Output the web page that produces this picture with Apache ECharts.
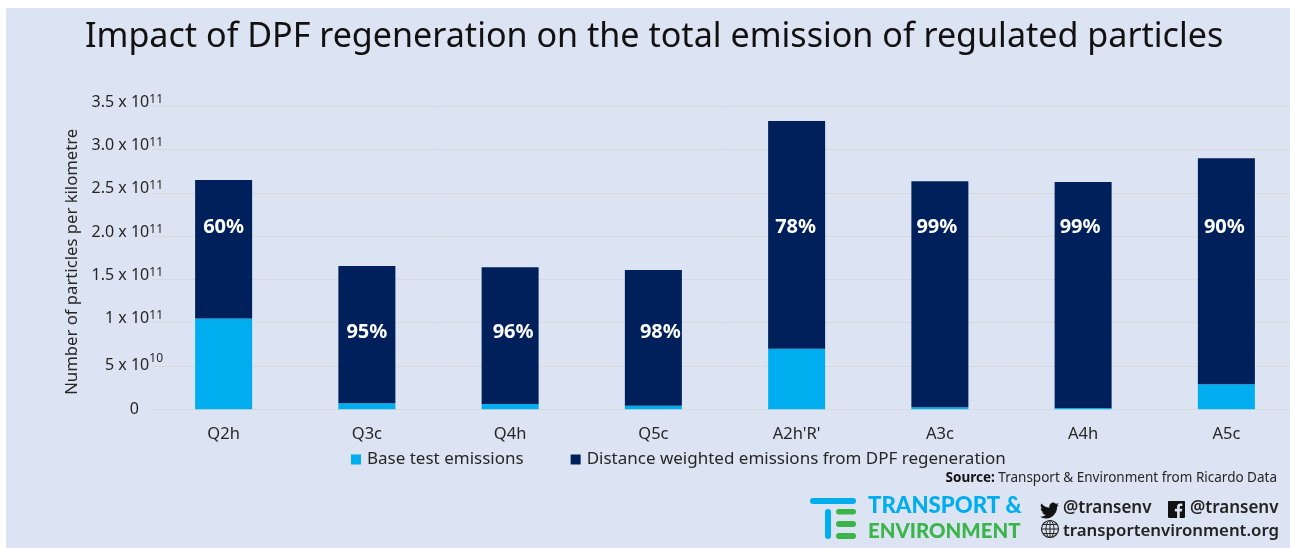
<!DOCTYPE html>
<html>
<head>
<meta charset="utf-8">
<style>html,body{margin:0;padding:0;background:#fff}#c{width:1290px;height:548px}</style>
<script src="https://cdn.jsdelivr.net/npm/echarts@6/dist/echarts.min.js"></script>
</head>
<body>
<div id="c"></div>
<script>
const titleText = 'Impact of DPF regeneration on the total emission of regulated particles';
const categories = ['Q2h', 'Q3c', 'Q4h', 'Q5c', "A2h'R'", 'A3c', 'A4h', 'A5c'];
const baseEmissions = [1.05e11, 0.07e11, 0.06e11, 0.04e11, 0.70e11, 0.025e11, 0.015e11, 0.29e11];
const regenEmissions = [1.60e11, 1.585e11, 1.58e11, 1.57e11, 2.63e11, 2.61e11, 2.61e11, 2.61e11];
const shareLabels = ['60%', '95%', '96%', '98%', '78%', '99%', '99%', '90%'];
const shareLabelHeights = [2.105e11, 0.895e11, 0.895e11, 0.895e11, 2.105e11, 2.105e11, 2.105e11, 2.105e11];
const shareLabelShift = [0, 0, 3, 7, -1, -3, -3, -2];
const tickText = ['0', '5 x 10', '1 x 10', '1.5 x 10', '2.0 x 10', '2.5 x 10', '3.0 x 10', '3.5 x 10'];
const tickExponent = ['', '10', '11', '11', '11', '11', '11', '11'];
const seriesNames = ['Base test emissions', 'Distance weighted emissions from DPF regeneration'];
const FONT = '"Noto Sans", sans-serif';
const INK = '#262626', BLUE = '#00AEEF', NAVY = '#00205B', GREEN = '#39B54A';
const twitterPath = 'M23.953 4.57a10 10 0 0 1-2.825.775 4.958 4.958 0 0 0 2.163-2.723c-.951.555-2.005.959-3.127 1.184a4.92 4.92 0 0 0-8.384 4.482C7.69 8.095 4.067 6.13 1.64 3.162a4.822 4.822 0 0 0-.666 2.475c0 1.71.87 3.213 2.188 4.096a4.904 4.904 0 0 1-2.228-.616v.06a4.923 4.923 0 0 0 3.946 4.827 4.996 4.996 0 0 1-2.212.085 4.936 4.936 0 0 0 4.604 3.417 9.867 9.867 0 0 1-6.102 2.105c-.39 0-.779-.023-1.17-.067a13.995 13.995 0 0 0 7.557 2.209c9.053 0 13.998-7.496 13.998-13.985 0-.21 0-.42-.015-.63A9.935 9.935 0 0 0 24 4.59z';
const facebookPath = 'M22.675 0H1.325C.593 0 0 .593 0 1.325v21.351C0 23.407.593 24 1.325 24H12.82v-9.294H9.692v-3.622h3.128V8.413c0-3.1 1.893-4.788 4.659-4.788 1.325 0 2.463.099 2.795.143v3.24l-1.918.001c-1.504 0-1.795.715-1.795 1.763v2.313h3.587l-.467 3.622h-3.12V24h6.116c.73 0 1.323-.593 1.323-1.325V1.325C24 .593 23.407 0 22.675 0z';

echarts.graphic.registerShape('twitterIcon', echarts.graphic.extendPath(twitterPath, {}));
echarts.graphic.registerShape('facebookIcon', echarts.graphic.extendPath(facebookPath, {}));

const bar = (x, y, w, h, fill) => ({ type: 'rect', shape: { x, y, width: w, height: h, r: Math.min(w, h) / 2 }, style: { fill }, silent: true });
const txt = (x, y, text, size, fill, weight, extra) => ({
  type: 'text', silent: true,
  style: Object.assign({ x, y, text, fill, fontFamily: FONT, fontSize: size, fontWeight: weight || 'normal', verticalAlign: 'middle', align: 'left' }, extra || {})
});
const gline = (x1, y1, x2, y2) => ({ type: 'line', shape: { x1, y1, x2, y2 }, style: { stroke: '#222', lineWidth: 1 }, silent: true });

const chart = echarts.init(document.getElementById('c'), null, { renderer: 'canvas' });
chart.setOption({
  animation: false,
  backgroundColor: '#ffffff',
  textStyle: { fontFamily: FONT },
  title: {
    text: titleText, left: 85, top: 20, padding: 0,
    textStyle: { fontFamily: FONT, fontSize: 34.1, fontWeight: 'normal', color: '#111' }
  },
  grid: { left: 152, top: 106.3, width: 1146, height: 303, outerBoundsMode: 'none' },
  legend: {
    data: seriesNames, left: 351, top: 451, padding: 0, itemWidth: 10, itemHeight: 10, itemGap: 47,
    icon: 'rect', textStyle: { fontFamily: FONT, fontSize: 17, color: INK, padding: [0, 0, 0, 1] }
  },
  xAxis: {
    type: 'category', data: categories,
    axisLine: { lineStyle: { color: '#D9D9D9', width: 1 } }, axisTick: { show: false },
    axisLabel: { color: INK, fontSize: 16.5, margin: 16, fontFamily: FONT, interval: 0 }
  },
  yAxis: {
    type: 'value', min: 0, max: 3.5e11, interval: 0.5e11,
    name: 'Number of particles per kilometre', nameLocation: 'middle', nameGap: 71, nameRotate: 90,
    nameTextStyle: { fontSize: 16.7, color: INK, fontFamily: FONT, padding: [0, 8, 0, 0] },
    splitLine: { lineStyle: { color: '#D9D9D9', width: 1 } }, axisLine: { show: false }, axisTick: { show: false },
    axisLabel: {
      margin: -11, align: 'right', interval: 0,
      formatter: (v) => {
        const i = Math.round(v / 0.5e11);
        if (i === 0) return '{z|' + tickText[0] + '}';
        const nudge = i === 1 ? 'l' : 'b';
        return '{' + nudge + '|' + tickText[i] + '}{s|' + tickExponent[i] + '}';
      },
      rich: {
        z: { fontSize: 16, color: INK, fontFamily: FONT, padding: [0, 24, 0, 0] },
        l: { fontSize: 16, color: INK, fontFamily: FONT, padding: [0, 0, 2, 0] },
        b: { fontSize: 16, color: INK, fontFamily: FONT, padding: [0, 0, 8, 0] },
        s: { fontSize: 12, color: INK, fontFamily: FONT, padding: [0, 0, 14, 0] }
      }
    }
  },
  series: [
    { name: seriesNames[0], type: 'bar', stack: 'total', barWidth: 57, data: baseEmissions, itemStyle: { color: BLUE } },
    { name: seriesNames[1], type: 'bar', stack: 'total', barWidth: 57, data: regenEmissions, itemStyle: { color: NAVY } },
    {
      name: 'share', type: 'scatter', symbolSize: 1, silent: true, itemStyle: { color: 'transparent', opacity: 1 },
      data: shareLabelHeights.map((h, i) => ({
        value: [i, h],
        label: { show: true, position: 'inside', formatter: shareLabels[i], offset: [shareLabelShift[i], 0],
          color: '#ffffff', fontSize: 20, fontWeight: 'bold', fontFamily: FONT }
      }))
    }
  ],
  graphic: [
    { type: 'rect', z: -100, zlevel: -1, silent: true, shape: { x: 6, y: 8, width: 1284, height: 540 }, style: { fill: '#DCE3F2' } },
    {
      type: 'text', silent: true,
      style: {
        x: 1277, y: 478, align: 'right', verticalAlign: 'middle', fill: INK, fontFamily: FONT, fontSize: 13.5,
        text: '{h|Source:} Transport & Environment from Ricardo Data',
        rich: { h: { fontWeight: 'bold', fontSize: 13.5, fontFamily: FONT, fill: '#111' } }
      }
    },
    bar(810, 498, 46, 6, BLUE), bar(825, 509, 6, 30, BLUE),
    bar(836, 509, 20, 5.5, GREEN), bar(836, 521, 20, 6, GREEN), bar(836, 533, 20, 6, GREEN),
    txt(868, 506, 'TRANSPORT &', 22.2, BLUE, '900', { fontFamily: 'Lato, sans-serif' }),
    txt(868, 531, 'ENVIRONMENT', 20.4, GREEN, '900', { fontFamily: 'Lato, sans-serif' }),
    { type: 'twitterIcon', silent: true, x: 1040, y: 501, scaleX: 19 / 24, scaleY: 16 / 20, style: { fill: '#111' } },
    txt(1063, 508, '@transenv', 17, '#222', '600'),
    { type: 'facebookIcon', silent: true, x: 1168, y: 501, scaleX: 17 / 24, scaleY: 17 / 24, style: { fill: '#111' } },
    txt(1190, 508, '@transenv', 17, '#222', '600'),
    { type: 'circle', silent: true, shape: { cx: 1050, cy: 529, r: 8.5 }, style: { fill: 'none', stroke: '#222', lineWidth: 1.2 } },
    { type: 'ellipse', silent: true, shape: { cx: 1050, cy: 529, rx: 4, ry: 8.5 }, style: { fill: 'none', stroke: '#222', lineWidth: 1 } },
    gline(1050, 520.5, 1050, 537.5), gline(1041.5, 529, 1058.5, 529), gline(1043, 524.5, 1057, 524.5), gline(1043, 533.5, 1057, 533.5),
    txt(1063, 531, 'transportenvironment.org', 16.8, '#222', '600')
  ]
});
</script>
</body>
</html>
